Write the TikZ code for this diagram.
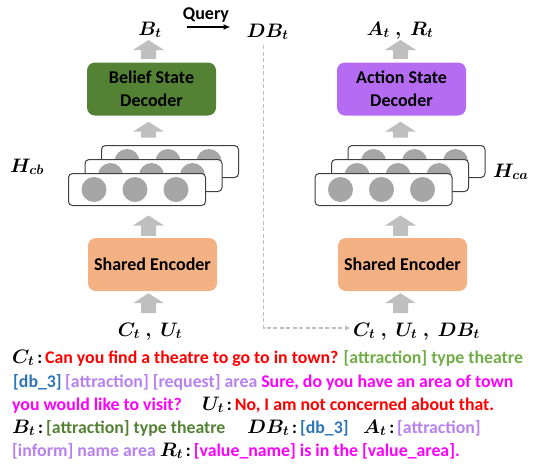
\documentclass[tikz,border=0pt]{standalone}
\usepackage{fix-cm}
\usepackage{amsmath}
\usepackage{bm}
\usepackage{fontspec}
\setmainfont{Carlito}
\usetikzlibrary{arrows.meta,calc}
\definecolor{decgreen}{HTML}{548235}
\definecolor{decpurple}{HTML}{B56CF2}
\definecolor{encorange}{HTML}{F4B183}
\definecolor{arrgray}{HTML}{BFBFBF}
\definecolor{circgray}{HTML}{A6A6A6}
\definecolor{tred}{HTML}{FF0000}
\definecolor{tgreen}{HTML}{70AD47}
\definecolor{tgreenD}{HTML}{548235}
\definecolor{tblue}{HTML}{2E75B6}
\definecolor{tpurple}{HTML}{B881F0}
\definecolor{tmag}{HTML}{FF00FF}
\newcommand{\mb}[1]{{\fontsize{19.5}{22}\selectfont$\boldsymbol{#1}$}}
\newcommand{\blockup}[3]{%
  \fill[arrgray] let \p1=(#1), \p2=(#2), \p3=(#3) in
    (\x1-7.5pt,\y2) -- (\x1-7.5pt,\y3-10pt) -- (\x1-15.5pt,\y3-10pt) -- (\x1,\y3)
    -- (\x1+15.5pt,\y3-10pt) -- (\x1+7.5pt,\y3-10pt) -- (\x1+7.5pt,\y2) -- cycle;}
\begin{document}
\begin{tikzpicture}[x=1pt,y=-1pt,
  lab/.style={inner sep=0pt, anchor=base, font=\fontsize{19.5}{22}\selectfont},
  boxst/.style={rounded corners=8pt, minimum width=129pt, minimum height=53pt, align=center, inner sep=0pt, font=\fontsize{18}{23}\selectfont\bfseries},
  layer/.style={draw=black!75, fill=white, rounded corners=4pt, minimum width=137pt, minimum height=32pt, line width=1pt, inner sep=0pt},
  circ/.style={circle, fill=circgray, minimum size=25pt, inner sep=0pt},
  txt/.style={inner sep=0pt, anchor=base west, font=\fontsize{17.8}{21}\selectfont\bfseries},
  dashconn/.style={draw=arrgray, line width=1.5pt, dash pattern=on 4pt off 2.5pt, -{Triangle[length=5pt,width=5pt]}},
  qconn/.style={line width=1.6pt, -{Latex[length=7pt,width=6pt]}}
]
\useasboundingbox (0,0) rectangle (553,464);

% top labels
\node[lab] (Bt) at (150,35) {$\boldsymbol{B_t}$};
\node[lab] (DBt) at (267.5,37) {$\boldsymbol{DB_t}$};
\node[lab] (AR) at (400,35) {$\boldsymbol{A_t\;,\;R_t}$};
\node[anchor=base, inner sep=0pt, font=\fontsize{18}{22}\selectfont\bfseries] (q) at (206,19) {Query};
\draw[qconn] ([shift={(37pt,8pt)}]Bt.base) -- ([shift={(-37pt,10pt)}]DBt.base);

% decoders
\node[boxst, fill=decgreen] (dec1) at (151.5,89) {Belief State\\Decoder};
\node[boxst, fill=decpurple] (dec2) at (401.5,89) {Action State\\Decoder};

% layer stacks
\foreach \n/\cx/\cy in {b/170/161.5, m/153.5/175.5, f/137/189.5} {
  \node[layer] (L\n) at (\cx,\cy) {};
  \foreach \k/\dx in {1/-43, 2/-2, 3/39} \node[circ] (L\n\k) at (\cx+\dx,\cy) {};
}
\foreach \n/\cx/\cy in {b/416.5/161.5, m/400/175.5, f/383.5/189.5} {
  \node[layer] (R\n) at (\cx,\cy) {};
  \foreach \k/\dx in {1/-43, 2/-2, 3/39} \node[circ] (R\n\k) at (\cx+\dx,\cy) {};
}
\node[lab, anchor=base west] (Hcb) at (10,172) {$\boldsymbol{H_{cb}}$};
\node[lab, anchor=base west] (Hca) at (493,177) {$\boldsymbol{H_{ca}}$};

% encoders
\node[boxst, fill=encorange] (enc1) at (152.5,264.5) {Shared Encoder};
\node[boxst, fill=encorange] (enc2) at (402.5,264.5) {Shared Encoder};

% inputs
\node[lab] (CU) at (150,336) {$\boldsymbol{C_t\;,\;U_t}$};
\node[lab, anchor=base west] (CUDB) at (353,336) {$\boldsymbol{C_t\;,\;U_t\;,\;DB_t}$};

% block arrows left
\blockup{[xshift=-4pt]enc1.center}{[yshift=23pt]CU.base}{[yshift=-2pt]enc1.south}
\blockup{[xshift=-4pt]enc1.center}{[yshift=2pt]enc1.north}{[yshift=-9.5pt]Lf.south}
\blockup{[xshift=-4pt]enc1.center}{[yshift=7.5pt]Lb.north}{[yshift=-6pt]dec1.south}
\blockup{[xshift=-4pt]enc1.center}{[yshift=3.5pt]dec1.north}{[yshift=-5pt]Bt.base}
% block arrows right
\blockup{[xshift=-2pt]enc2.center}{[yshift=23pt]CUDB.base}{[yshift=-2pt]enc2.south}
\blockup{[xshift=-2pt]enc2.center}{[yshift=2pt]enc2.north}{[yshift=-9.5pt]Rf.south}
\blockup{[xshift=-2pt]enc2.center}{[yshift=7.5pt]Rb.north}{[yshift=-6pt]dec2.south}
\blockup{[xshift=-2pt]enc2.center}{[yshift=3.5pt]dec2.north}{[yshift=-5pt]AR.base}

% dashed DB connector
\draw[dashconn] ([shift={(-4pt,-8pt)}]DBt.base) |- ([shift={(-3pt,8pt)}]CUDB.base west);

% text lines
\node[txt] (t1) at (12,363) {\mb{C_t}\,:\,\textcolor{tred}{Can you find a theatre to go to in town?} \textcolor{tgreen}{[attraction] type theatre}};
\node[txt] (t2a) at (13,387) {\textcolor{tblue}{[db\_3]}};
\node[txt] (t2b) at (65,387) {\textcolor{tpurple}{[attraction] [request] area} \textcolor{tmag}{Sure, do you have an area of town}};
\node[txt] (t3a) at (12,410) {\textcolor{tmag}{you would like to visit?}};
\node[txt] (t3b) at (202,410) {\mb{U_t}\,:\,\textcolor{tred}{No, I am not concerned about that.}};
\node[txt] (t4a) at (12,433) {\mb{B_t}\,:\,\textcolor{tgreenD}{[attraction] type theatre}};
\node[txt] (t4b) at (247,433) {\mb{DB_t}\,:\,\textcolor{tblue}{[db\_3]}};
\node[txt] (t4c) at (363,433) {\mb{A_t}\,:\,\textcolor{tpurple}{[attraction]}};
\node[txt] (t5) at (12,456) {\textcolor{tpurple}{[inform] name area} \mb{R_t}\,:\,\textcolor{tmag}{[value\_name] is in the [value\_area].}};
\end{tikzpicture}
\end{document}
